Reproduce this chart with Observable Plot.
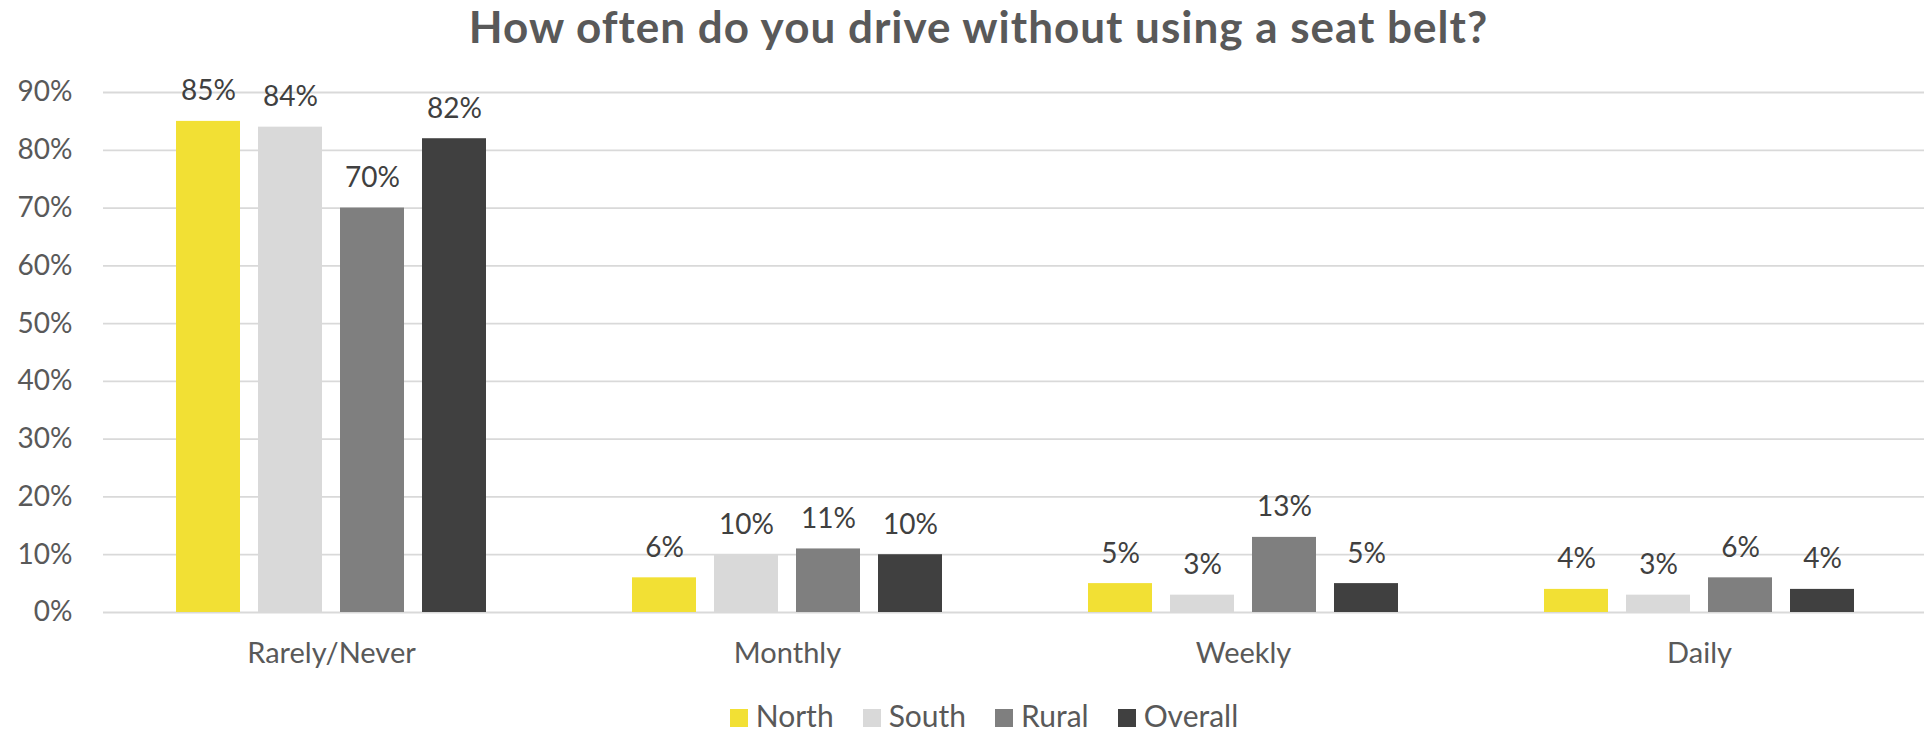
<!DOCTYPE html>
<html>
<head>
<meta charset="utf-8">
<script src="https://cdn.jsdelivr.net/npm/d3@7"></script>
<script src="https://cdn.jsdelivr.net/npm/@observablehq/plot@0.6"></script>
<style>
  html, body { margin: 0; padding: 0; background: #fff; }
  body { width: 1924px; height: 730px; overflow: hidden; font-family: Lato, sans-serif; }
  #title { height: 60px; box-sizing: border-box; padding-top: 0px; padding-left: 33px; text-align: center;
           font-size: 44px; line-height: 53px; letter-spacing: 1px; font-weight: 700; color: #595959; white-space: nowrap; }
  #legend { height: 34px; box-sizing: border-box; text-align: center; padding-left: 44px; padding-top: 0px;
            font-size: 30px; line-height: 34px; color: #595959; white-space: nowrap; }
  .item { display: inline-block; margin: 0 14.5px; }
  .sw { display: inline-block; width: 18px; height: 18px; margin-right: 8px; vertical-align: baseline; }
  #chart svg { display: block; }
</style>
</head>
<body>
<div id="title">How often do you drive without using a seat belt?</div>
<div id="chart"></div>
<div id="legend"></div>
<script>
const categories = ["Rarely/Never", "Monthly", "Weekly", "Daily"];
const series = ["North", "South", "Rural", "Overall"];
const north = [85, 6, 5, 4];
const south = [84, 10, 3, 3];
const rural = [70, 11, 13, 6];
const overall = [82, 10, 5, 4];
const seriesColors = ["#F2E034", "#D9D9D9", "#7F7F7F", "#404040"];
const yTicks = [0, 10, 20, 30, 40, 50, 60, 70, 80, 90];
const yTickLabels = yTicks.map(d => d + "%");

const valuesBySeries = [north, south, rural, overall];
const rows = [];
categories.forEach((c, i) => {
  series.forEach((s, j) => {
    rows.push({category: c, series: s, value: valuesBySeries[j][i]});
  });
});

const chart = Plot.plot({
  width: 1924,
  height: 638,
  marginLeft: 102,
  marginRight: -4,
  marginTop: 32,
  marginBottom: 86,
  style: {fontFamily: "Lato, sans-serif", fontSize: "28px", color: "#595959", background: "#fff", overflow: "visible"},
  fx: {domain: categories, paddingInner: 0, paddingOuter: 0, label: null, axis: null},
  x: {domain: series, paddingInner: 0.215, paddingOuter: 0.866, axis: null},
  y: {domain: [0, 90], ticks: yTicks, tickFormat: d => yTickLabels[yTicks.indexOf(d)], tickSize: 0, tickPadding: 31, label: null},
  color: {domain: series, range: seriesColors},
  marks: [
    Plot.ruleY(yTicks, {stroke: "#D9D9D9", strokeWidth: 1.8}),
    Plot.axisFx({anchor: "bottom", tickSize: 0, tickPadding: 30, fontSize: 29, label: null}),
    Plot.barY(rows, {fx: "category", x: "series", y: "value", fill: "series"}),
    Plot.text(rows, {fx: "category", x: "series", y: "value", text: d => d.value + "%", lineAnchor: "bottom", dy: -21, fill: "#404040"})
  ]
});
document.getElementById("chart").appendChild(chart);

const legend = document.getElementById("legend");
series.forEach((s, i) => {
  const item = document.createElement("span");
  item.className = "item";
  const sw = document.createElement("span");
  sw.className = "sw";
  sw.style.background = seriesColors[i];
  item.appendChild(sw);
  item.appendChild(document.createTextNode(s));
  legend.appendChild(item);
});
</script>
</body>
</html>
